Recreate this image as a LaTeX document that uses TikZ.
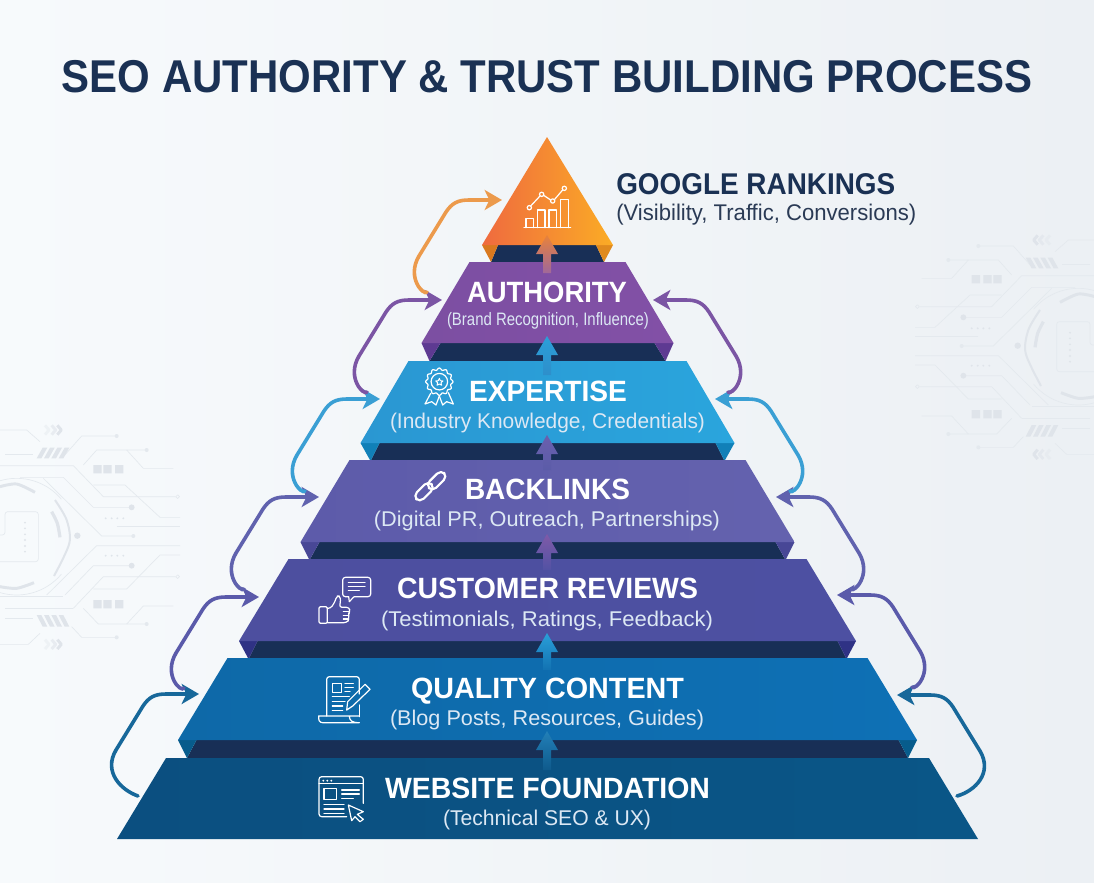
\documentclass[tikz,border=0pt]{standalone}
\usepackage{fontspec}
\usepackage{graphicx}
\setmainfont{Liberation Sans}
\usetikzlibrary{arrows.meta,calc}
\definecolor{navy}{HTML}{1A3154}
\definecolor{band}{HTML}{182F56}
\definecolor{subt}{HTML}{2A3A55}
\definecolor{soft}{HTML}{DCE8F4}
\definecolor{circ}{HTML}{E4E9EE}
\definecolor{circb}{HTML}{DFE4EA}
\newcommand\hx[1]{\definecolor{#1}{HTML}{#1}}
\hx{F7FAFC}\hx{ECF0F4}\hx{D9791F}\hx{E08A1E}\hx{EF6A3F}\hx{EF8F30}\hx{FBAC25}
\hx{7C4FA2}\hx{8250A6}\hx{5E3A92}\hx{2A97D2}\hx{2AA5DD}\hx{1180B8}
\hx{5D5BAA}\hx{6462AE}\hx{484796}\hx{4D4F9F}\hx{4D50A2}\hx{2F3285}
\hx{0E69A8}\hx{0E70B5}\hx{075C8C}\hx{0B4F80}\hx{0A5687}
\hx{E8823A}\hx{A0689A}\hx{2A9FD8}\hx{2E8FCB}\hx{6A5FAE}\hx{5B5CA8}\hx{7F5AA8}\hx{5252A4}\hx{1272B2}\hx{2280B8}\hx{0F5A8C}
\hx{17689A}\hx{5A5AAA}\hx{6062AE}\hx{3A9FD4}\hx{7B55A4}\hx{EC9A4C}
\newcommand\fitw[2]{\resizebox{\dimexpr 0.75pt*#1\relax}{\height}{#2}}
% colL colR colFold ytop ybot hT hB hF hDT
\newcommand\tier[9]{%
  \fill[band] (547.5-#9,#5) -- (547.5+#9,#5) -- (547.5+#8,#5+18) -- (547.5-#8,#5+18) -- cycle;
  \fill[#3] (547.5-#7,#5) -- (547.5-#9,#5) -- (547.5-#8,#5+18) -- cycle;
  \fill[#3] (547.5+#7,#5) -- (547.5+#9,#5) -- (547.5+#8,#5+18) -- cycle;
  \shade[left color=#1,right color=#2] (547.5-#6,#4) -- (547.5+#6,#4) -- (547.5+#7,#5) -- (547.5-#7,#5) -- cycle;
}
% tip, end, top colour, bottom colour
\newcommand\upblock[4]{%
  \shade[top color=#3,bottom color=#4] (547,#1) -- (558,#1+19) -- (551,#1+19) -- (551,#2) -- (543,#2) -- (543,#1+19) -- (536,#1+19) -- cycle;
}
\newcommand\lconn[3]{%
  \draw[conn,#1] (#2) .. controls ($(#3)+(-78,96)$) and ($(#3)+(-96,78)$) .. ($(#3)+(-83,56)$) -- ($(#3)+(-56,12)$) .. controls ($(#3)+(-50,3)$) and ($(#3)+(-44,0)$) .. ($(#3)+(-33,0)$) -- (#3);
}
\newcommand\rconn[3]{%
  \draw[conn,#1] (#2) .. controls ($(#3)+(78,96)$) and ($(#3)+(96,78)$) .. ($(#3)+(83,56)$) -- ($(#3)+(56,12)$) .. controls ($(#3)+(50,3)$) and ($(#3)+(44,0)$) .. ($(#3)+(33,0)$) -- (#3);
}
\newcommand\circuitart{%
  \begin{scope}[circ,line width=.5pt,line join=round]
  \draw[circ] (0,90)--(80,90)--(120,125);
  \draw[circ] (15,163)--(100,163);
  \draw[circ] (190,170)--(245,108)--(350,108);
  \draw[circ] (250,195)--(290,150)--(440,150);
  \draw[circ] (380,150)--(430,205)--(520,205);
  \draw[circ] (0,197)--(220,197)--(310,290)--(527,290);
  \draw[circ] (60,232)--(190,232)--(280,322)--(395,322);
  \draw[circ] (280,255)--(375,255)--(480,352)--(540,352);
  \draw[circ] (350,380)--(540,380);
  \draw[circ] (130,235)--(305,408)--(400,408);
  \draw[circ] (140,585)--(290,437)--(540,437);
  \draw[circ] (195,585)--(280,497)--(395,497);
  \draw[circ] (0,590)--(190,590);
  \draw[circ] (220,625)--(310,530)--(527,530);
  \draw[circ] (280,567)--(380,567)--(480,465)--(540,465);
  \draw[circ] (15,625)--(220,625);
  \draw[circ] (250,625)--(295,672)--(440,672);
  \draw[circ] (380,672)--(430,618)--(520,618);
  \draw[circ] (15,655)--(100,655);
  \draw[circ] (0,733)--(85,733)--(120,700);
  \draw[circ] (215,680)--(245,712)--(350,712);
  \fill[circ] (350,108) circle (1.5pt) (440,150) circle (1.5pt) (400,408) circle (1.5pt)
     (350,712) circle (1.5pt) (440,672) circle (1.5pt);
  \fill[circb] (395,322) circle (2.2pt) (395,497) circle (2.2pt) (232,407) circle (2.4pt);
  \draw[circ] (533,290) circle (1.4pt) (533,530) circle (1.4pt);
  \foreach \yy in {195,600} {\fill[circb] (280,\yy) rectangle ++(25,25) (310,\yy) rectangle ++(25,25) (345,\yy) rectangle ++(25,25);}
  \foreach \yy in {355,467} {\foreach \xx in {317,335,352,370} {\fill[circb] (\xx,\yy) circle (.8pt);}}
  \foreach \xx in {110,132,154,176} {\fill[circb] (\xx,175)--(\xx+14,175)--(\xx+32,143)--(\xx+18,143)--cycle;
     \fill[circb] (\xx,645)--(\xx+14,645)--(\xx+32,680)--(\xx+18,680)--cycle;}
  \foreach \yy in {90,733} {\foreach \xx/\oo in {135/.35,155/.6,172/1} {\draw[circb,line width=2.2pt,opacity=\oo] (\xx,\yy-14)--(\xx+12,\yy)--(\xx,\yy+14);}}
  \draw[circ,rounded corners=2pt] (0,405)--(15,405)--(15,335)--(115,335)--(115,485)--(0,485);
  \foreach \yy in {368,385,403,420,438,455} {\fill[circb] (75,\yy) circle (.8pt);}
  \draw[circb,line width=2.2pt] plot[smooth] coordinates {(0,260)(50,252)(105,277)};
  \draw[circb,line width=2.2pt] plot[smooth] coordinates {(0,560)(50,565)(102,548)};
  \draw[circb,line width=2.4pt] plot[smooth] coordinates {(155,335)(172,370)(180,412)};
  \draw[circb,line width=1.5pt] plot[smooth] coordinates {(165,300)(200,360)(208,430)(162,528)};
  \draw[circ] plot[domain=40:110,samples=20] ({50+175*cos(\x)},{410-175*sin(\x)});
  \draw[circ] plot[domain=40:110,samples=20] ({50+175*cos(\x)},{410+175*sin(\x)});
  \end{scope}
}
\tikzset{
  conn/.style={line width=2.7pt,line cap=round,-{Stealth[length=13pt,width=15pt,inset=3.5pt]}},
  ttl/.style={inner sep=0pt,anchor=base,text=white,font=\bfseries\fontsize{22}{24}\selectfont},
  sbt/.style={inner sep=0pt,anchor=base,text=soft,font=\fontsize{16}{18}\selectfont},
  icn/.style={draw=white,line width=.9pt,line join=round,line cap=round,fill=none},
  zoomed/.style={x=.25pt,y=-.25pt}
}
\begin{document}
\begin{tikzpicture}[x=.75pt,y=-.75pt]
\useasboundingbox (0,0) rectangle (1094,882);
\shade[left color=F7FAFC,right color=ECF0F4] (0,0) rectangle (1094,882);
\begin{scope}[shift={(0,400)},zoomed]\circuitart\end{scope}
\begin{scope}[shift={(1095,210)},x=-.25pt,y=-.25pt]\circuitart\end{scope}

\node[inner sep=0pt,anchor=base,text=navy,font=\bfseries\fontsize{34.5}{38}\selectfont] (title) at (547,92) {\fitw{970}{SEO AUTHORITY \& TRUST BUILDING PROCESS}};

% apex
\fill[band] (498,245) -- (596,245) -- (604,262) -- (491,262) -- cycle;
\fill[D9791F] (482,245) -- (498,245) -- (491,262) -- cycle;
\fill[E08A1E] (613,245) -- (596,245) -- (604,262) -- cycle;
\shade[left color=EF6A3F,middle color=EF8F30,right color=FBAC25] (547,137) -- (613,245) -- (482,245) -- cycle;

\tier{7C4FA2}{8250A6}{5E3A92}{262}{343}{78}{126}{118}{107}
\tier{2A97D2}{2AA5DD}{1180B8}{361}{443}{139}{187}{177}{168}
\tier{5D5BAA}{6462AE}{484796}{460}{542}{198}{247}{238}{228}
\tier{4D4F9F}{4D50A2}{2F3285}{559}{641}{259}{308.5}{299}{290}
\tier{0E69A8}{0E70B5}{075C8C}{658}{740}{320}{369.5}{360.5}{351}
\shade[left color=0B4F80,right color=0A5687] (166,758) -- (929,758) -- (978,839) -- (117,839) -- cycle;

% centre block arrows
\upblock{235}{273}{E8823A}{A0689A}
\upblock{336}{375}{2A9FD8}{2E8FCB}
\upblock{435}{470}{6A5FAE}{5B5CA8}
\upblock{534}{570}{7F5AA8}{5252A4}
\upblock{633}{670}{2A9FD8}{1272B2}
\upblock{731}{770}{2280B8}{0F5A8C}

% connectors
\coordinate (tL1) at (199,694); \coordinate (sL1) at (138,796);
\coordinate (tL2) at (259,597); \coordinate (sL2) at (184,688);
\coordinate (tL3) at (319,497); \coordinate (sL3) at (244,589);
\coordinate (tL4) at (380,399); \coordinate (sL4) at (305,491);
\coordinate (tL5) at (442,300); \coordinate (sL5) at (367,392);
\coordinate (tL6) at (502,200); \coordinate (sL6) at (427,292);
\coordinate (tR1) at (897,695); \coordinate (sR1) at (957,796);
\coordinate (tR2) at (837,595); \coordinate (sR2) at (912,687);
\coordinate (tR3) at (776,497); \coordinate (sR3) at (851,589);
\coordinate (tR4) at (715,399); \coordinate (sR4) at (790,491);
\coordinate (tR5) at (653,300); \coordinate (sR5) at (728,392);
\lconn{17689A}{sL1}{tL1}
\lconn{5A5AAA}{sL2}{tL2}
\lconn{6062AE}{sL3}{tL3}
\lconn{3A9FD4}{sL4}{tL4}
\lconn{7B55A4}{sL5}{tL5}
\lconn{EC9A4C}{sL6}{tL6}
\rconn{17689A}{sR1}{tR1}
\rconn{5A5AAA}{sR2}{tR2}
\rconn{6062AE}{sR3}{tR3}
\rconn{3A9FD4}{sR4}{tR4}
\rconn{7B55A4}{sR5}{tR5}

% labels
\node[inner sep=0pt,anchor=base west,text=navy,font=\bfseries\fontsize{22.5}{26}\selectfont] (gr) at (616,194) {\fitw{279}{GOOGLE RANKINGS}};
\node[inner sep=0pt,anchor=base west,text=subt,font=\fontsize{17}{19}\selectfont] (grs) at (616,220) {\fitw{300}{(Visibility, Traffic, Conversions)}};
\node[ttl] (au) at (547,302) {\fitw{160}{AUTHORITY}};
\node[sbt,font=\fontsize{13.5}{15}\selectfont] (aus) at (548,325) {\fitw{202}{(Brand Recognition, Influence)}};
\node[ttl] (ex) at (548,401) {\fitw{158}{EXPERTISE}};
\node[sbt] (exs) at (547.5,428) {\fitw{315}{(Industry Knowledge, Credentials)}};
\node[ttl] (ba) at (547.5,499) {\fitw{165}{BACKLINKS}};
\node[sbt] (bas) at (547,526) {\fitw{346}{(Digital PR, Outreach, Partnerships)}};
\node[ttl] (cu) at (547.5,598) {\fitw{301}{CUSTOMER REVIEWS}};
\node[sbt] (cus) at (547,626) {\fitw{332}{(Testimonials, Ratings, Feedback)}};
\node[ttl] (qu) at (547.5,698) {\fitw{273}{QUALITY CONTENT}};
\node[sbt] (qus) at (547,725) {\fitw{314}{(Blog Posts, Resources, Guides)}};
\node[ttl] (we) at (547.5,798) {\fitw{325}{WEBSITE FOUNDATION}};
\node[sbt] (wes) at (547,825) {\fitw{208}{(Technical SEO \& UX)}};

% icons
\begin{scope}[shift={(400,130)},zoomed]
  \draw[icn] (372,293)--(512,293);
  \draw[icn] (378,293)--(378,265)--(400,265)--(400,293);
  \draw[icn] (412,293)--(412,240)--(435,240)--(435,293);
  \draw[icn] (447,293)--(447,240)--(470,240)--(470,293);
  \draw[icn] (482,293)--(482,208)--(505,208)--(505,293);
  \draw[icn] (392,228)--(420,198) (431,196)--(452,210) (464,208)--(487,181);
  \draw[icn] (388,233) circle (1.6pt) (425,193) circle (1.6pt) (458,213) circle (1.6pt) (493,175) circle (1.6pt);
\end{scope}
\begin{scope}[shift={(400,360)},zoomed]
  \draw[icn] plot[domain=0:360,samples=97,smooth] ({118+(38+3*cos(12*\x))*cos(\x)},{65+(38+3*cos(12*\x))*sin(\x)});
  \draw[icn] (118,65) circle (6.2pt);
  \draw[icn,line width=.7pt] (118,55)--(121,62)--(129,63)--(123,68)--(125,76)--(118,72)--(111,76)--(113,68)--(107,63)--(115,62)--cycle;
  \draw[icn] (92,100)--(75,132)--(95,125)--(108,135)--(118,108);
  \draw[icn] (118,108)--(128,135)--(140,125)--(160,132)--(145,98);
\end{scope}
\begin{scope}[shift={(400,360)},zoomed]
  \draw[icn,line width=1.6pt,rounded corners=4pt,rotate around={45:(110,362)}] (78,348) rectangle (142,376);
  \draw[icn,line width=1.6pt,rounded corners=4pt,rotate around={45:(72,395)}] (40,381) rectangle (104,409);
\end{scope}
\begin{scope}[shift={(300,570)},zoomed]
  % speech bubble and thumb
  \draw[icn,rounded corners=2pt] (128,22) rectangle (212,80);
  \fill[4D4F9F] (146,78) rectangle (162,84);
  \draw[icn] (146,80)--(148,95)--(162,80);
  \draw[icn] (145,38)--(195,38) (145,50)--(195,50) (145,62)--(178,62);
  \draw[icn,rounded corners=1pt] (57,110) rectangle (82,160);
  \draw[icn,rounded corners=2pt] (82,115)--(92,115)--(105,95)--(110,78)--(120,78)--(122,92)--(118,112)--(148,112)--(150,125)--(144,134)--(148,148)--(140,158)--(82,158);
  \draw[icn] (130,125)--(148,125) (130,136)--(146,136) (130,147)--(146,147);
  % document
  \draw[icn,rounded corners=2pt] (80,438)--(80,320)--(178,320)--(178,372);
  \draw[icn] (178,405)--(178,440);
  \draw[icn] (148,440) .. controls (150,452) and (155,458) .. (178,458) -- (68,458) .. controls (58,458) and (55,450) .. (56,438) -- (148,438) -- (178,438);
  \draw[icn] (97,340) rectangle (125,368);
  \draw[icn] (135,340)--(160,340) (135,352)--(160,352) (135,365)--(150,365) (97,380)--(148,380) (97,395)--(135,395) (97,408)--(128,408) (97,422)--(128,422);
  \draw[icn] (143,395)--(195,343)--(210,358)--(158,408)--(140,420)--cycle;
  % browser
  \draw[icn,rounded corners=2pt] (140,740)--(57,740)--(57,620)--(190,620)--(190,700);
  \draw[icn] (57,640)--(190,640);
  \fill[white] (70,632) circle (.8pt) (82,632) circle (.8pt) (94,632) circle (.8pt);
  \draw[icn] (72,655) rectangle (110,688);
  \draw[icn] (125,660)--(178,660) (125,672)--(178,672) (125,685)--(160,685) (72,703)--(132,703) (72,717)--(132,717) (72,730)--(132,730);
  \draw[icn] (145,705)--(190,725)--(172,733)--(190,748)--(180,755)--(165,740)--(155,752)--cycle;
\end{scope}
\end{tikzpicture}
\end{document}
